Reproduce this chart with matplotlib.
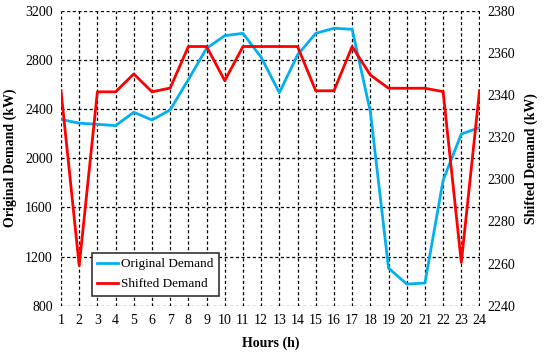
import matplotlib
matplotlib.use("Agg")
import matplotlib.pyplot as plt

hours = list(range(1, 25))
original = [2315, 2285, 2276, 2265, 2374, 2311, 2393, 2640, 2894, 2997, 3016, 2821,
            2533, 2840, 3016, 3057, 3049, 2380, 1106, 976, 984, 1820, 2197, 2249]
shifted = [2342, 2259, 2341.5, 2341.5, 2350, 2341.5, 2343.3, 2363, 2363, 2346.8, 2363, 2363,
           2363, 2363, 2342, 2342, 2363, 2349.5, 2343.2, 2343.2, 2343.2, 2341.6, 2260.5, 2342]

plt.rcParams["font.family"] = ["Liberation Serif", "DejaVu Serif"]

fig = plt.figure(figsize=(5.5, 3.55), dpi=100)
ax = fig.add_axes([61 / 550, 1 - 305.7 / 355, 418.5 / 550, 295 / 355])
ax2 = ax.twinx()

l1, = ax.plot(hours, original, color="#00B0F0", lw=2, label="Original Demand")
l2, = ax2.plot(hours, shifted, color="#FF0000", lw=2, label="Shifted Demand")

ax.set_xlim(1, 24)
ax.set_ylim(800, 3200)
ax.set_yticks(range(800, 3201, 400))
ax.set_xticks(hours)
ax2.set_ylim(2240, 2380)
ax2.set_yticks(range(2240, 2381, 20))

ax.grid(True, color="black", linestyle=(0, (2.5, 2)), linewidth=0.9)
for a in (ax, ax2):
    for s in a.spines.values():
        s.set_visible(False)
    a.tick_params(length=0, labelsize=10, pad=6)

ax.set_xlabel("Hours (h)", fontweight="bold", fontsize=10, labelpad=7)
ax.set_ylabel("Original Demand (kW)", fontweight="bold", fontsize=10, labelpad=6)
ax2.set_ylabel("Shifted Demand (kW)", fontweight="bold", fontsize=10, labelpad=6)

leg = ax2.legend(handles=[l1, l2], loc="lower left", bbox_to_anchor=(0.058, 0.012),
                 fancybox=False, edgecolor="#333333", framealpha=1, fontsize=9.5,
                 handlelength=1.6, handletextpad=0.2, borderpad=0.4, labelspacing=0.6)
leg.get_frame().set_linewidth(1.2)

fig.savefig("out.png", dpi=100)
